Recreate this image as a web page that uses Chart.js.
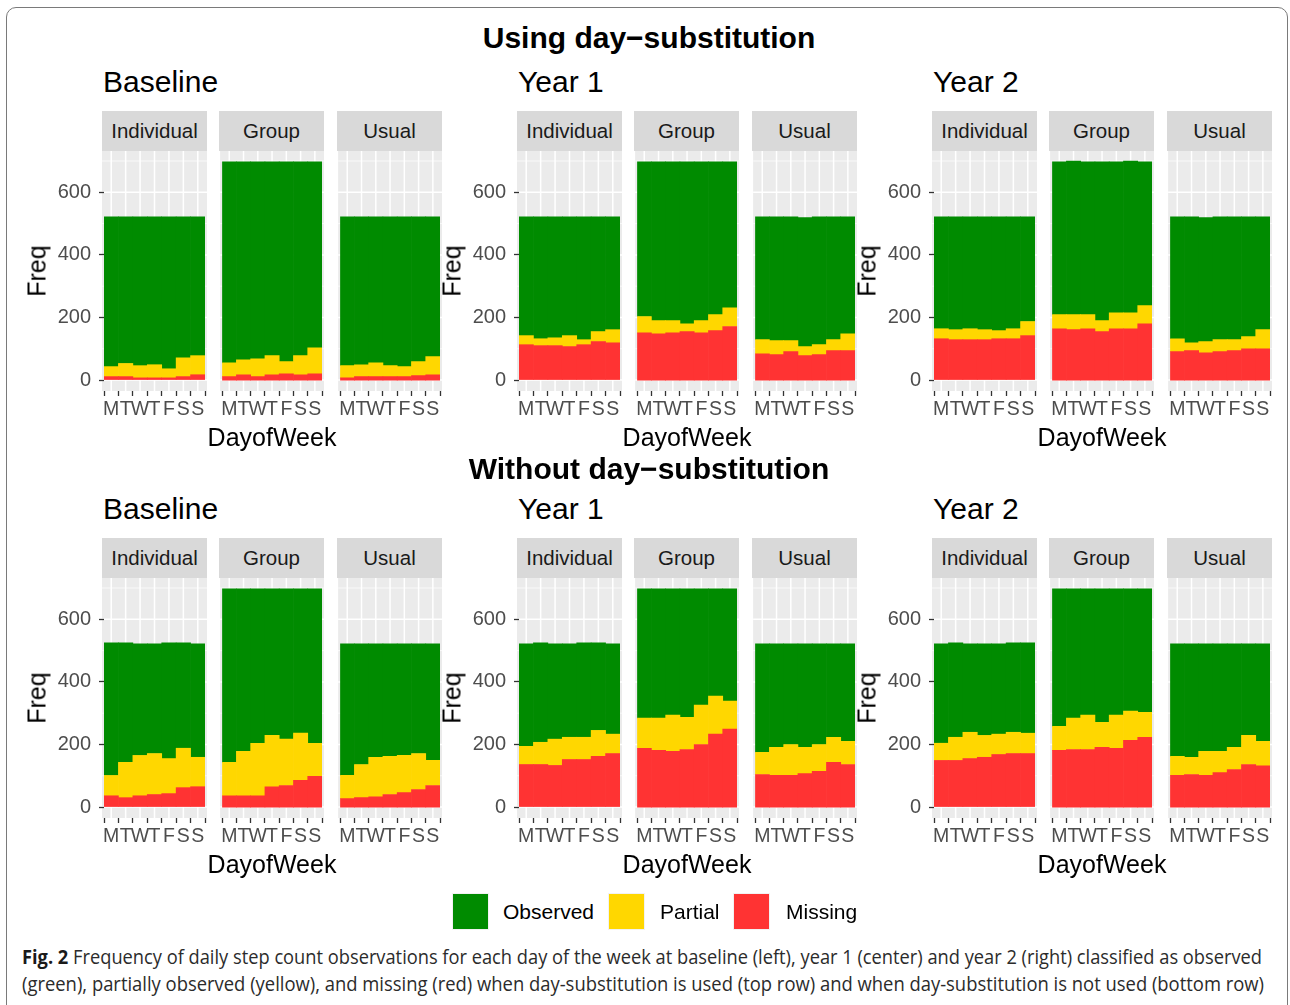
<!DOCTYPE html>
<html>
<head>
<meta charset="utf-8">
<script src="https://cdn.jsdelivr.net/npm/chart.js@4.4.1/dist/chart.umd.min.js"></script>
<style>
  html, body { margin: 0; padding: 0; background: #fff; }
  body { width: 1290px; height: 1005px; position: relative; overflow: hidden; font-family: "Liberation Sans", Arial, sans-serif; }
  .abs { position: absolute; white-space: nowrap; }
  .frame { position: absolute; left: 6px; top: 7px; width: 1282px; height: 1020px; border: 1.3px solid #7a7a7a; border-radius: 10px; box-sizing: border-box; }
  .title { font-weight: bold; font-size: 30px; color: #000; transform: translate(-50%, -50%); }
  .period { font-size: 30px; color: #000; transform: translateY(-50%); }
  .strip { background: #d9d9d9; color: #1a1a1a; font-size: 20.5px; text-align: center; }
  .axtitle { font-size: 25px; color: #000; transform: translate(-50%, -50%); }
  .freq { font-size: 25px; color: #000; transform: translate(-50%, -50%) rotate(-90deg); }
  canvas { position: absolute; }
  .key { position: absolute; width: 37px; height: 37px; box-sizing: border-box; border: 1.5px solid #f2f2f2; }
  .keytxt { font-size: 21px; color: #000; transform: translateY(-50%); }
  .cap { font-family: "Open Sans", "Noto Sans", sans-serif; font-size: 19.5px; color: #2b2b2b; transform-origin: 0 50%; }
</style>
</head>
<body>
<div class="frame"></div>
<div id="root"></div>
<script>
const days = ['M', 'T', 'W', 'T', 'F', 'S', 'S'];
const periods = ['Baseline', 'Year 1', 'Year 2'];
const arms = ['Individual', 'Group', 'Usual'];
const yTicks = [0, 200, 400, 600];

// Using day-substitution (top row)
const subBaseIndMissing = [11, 11, 7, 7, 7, 11, 17];
const subBaseIndPartial = [32, 42, 39, 42, 29, 60, 61];
const subBaseIndObserved = [479, 469, 476, 473, 486, 451, 444];
const subBaseGrpMissing = [11, 17, 11, 17, 20, 17, 20];
const subBaseGrpPartial = [44, 48, 57, 61, 39, 61, 83];
const subBaseGrpObserved = [642, 632, 629, 619, 638, 619, 594];
const subBaseUsuMissing = [7, 11, 11, 11, 11, 14, 17];
const subBaseUsuPartial = [39, 38, 44, 35, 32, 45, 58];
const subBaseUsuObserved = [476, 473, 467, 476, 479, 463, 447];

const subY1IndMissing = [113, 110, 110, 107, 113, 123, 119];
const subY1IndPartial = [29, 22, 25, 35, 16, 32, 42];
const subY1IndObserved = [380, 390, 387, 380, 393, 367, 361];
const subY1GrpMissing = [151, 148, 151, 155, 151, 158, 171];
const subY1GrpPartial = [52, 42, 39, 25, 39, 51, 60];
const subY1GrpObserved = [494, 507, 507, 517, 507, 488, 466];
const subY1UsuMissing = [84, 81, 91, 78, 81, 94, 94];
const subY1UsuPartial = [45, 45, 35, 29, 32, 35, 54];
const subY1UsuObserved = [393, 396, 396, 412, 409, 393, 374];

const subY2IndMissing = [132, 129, 129, 129, 132, 132, 142];
const subY2IndPartial = [32, 32, 35, 32, 26, 32, 45];
const subY2IndObserved = [358, 361, 358, 361, 364, 358, 335];
const subY2GrpMissing = [164, 161, 164, 155, 164, 164, 180];
const subY2GrpPartial = [45, 48, 45, 35, 51, 51, 58];
const subY2GrpObserved = [488, 491, 488, 507, 482, 485, 459];
const subY2UsuMissing = [91, 94, 87, 91, 94, 100, 100];
const subY2UsuPartial = [41, 25, 36, 38, 35, 39, 61];
const subY2UsuObserved = [390, 403, 396, 393, 393, 383, 361];

// Without day-substitution (bottom row)
const rawBaseIndMissing = [36, 30, 36, 40, 43, 62, 65];
const rawBaseIndPartial = [65, 113, 129, 131, 112, 126, 94];
const rawBaseIndObserved = [424, 382, 357, 351, 370, 337, 363];
const rawBaseGrpMissing = [36, 36, 36, 65, 69, 85, 98];
const rawBaseGrpPartial = [107, 142, 168, 164, 148, 151, 106];
const rawBaseGrpObserved = [554, 519, 493, 468, 480, 461, 493];
const rawBaseUsuMissing = [27, 30, 33, 40, 46, 56, 69];
const rawBaseUsuPartial = [74, 106, 126, 122, 119, 115, 80];
const rawBaseUsuObserved = [421, 386, 363, 360, 357, 351, 373];

const rawY1IndMissing = [136, 136, 133, 152, 152, 162, 171];
const rawY1IndPartial = [58, 71, 84, 71, 71, 83, 62];
const rawY1IndObserved = [328, 318, 305, 299, 302, 280, 289];
const rawY1GrpMissing = [188, 181, 178, 184, 200, 233, 249];
const rawY1GrpPartial = [96, 103, 116, 103, 126, 122, 90];
const rawY1GrpObserved = [413, 413, 403, 410, 371, 342, 358];
const rawY1UsuMissing = [104, 101, 101, 107, 114, 143, 136];
const rawY1UsuPartial = [71, 90, 99, 84, 86, 80, 74];
const rawY1UsuObserved = [347, 331, 322, 331, 322, 299, 312];

const rawY2IndMissing = [149, 149, 155, 159, 168, 171, 171];
const rawY2IndPartial = [55, 74, 84, 70, 65, 68, 65];
const rawY2IndObserved = [318, 302, 283, 293, 289, 286, 289];
const rawY2GrpMissing = [181, 184, 184, 191, 188, 213, 223];
const rawY2GrpPartial = [77, 100, 110, 80, 106, 94, 80];
const rawY2GrpObserved = [439, 413, 403, 426, 403, 390, 394];
const rawY2UsuMissing = [101, 104, 101, 110, 120, 136, 132];
const rawY2UsuPartial = [61, 55, 77, 68, 71, 93, 78];
const rawY2UsuObserved = [360, 363, 344, 344, 331, 293, 312];

const COLORS = { Observed: '#008B00', Partial: '#FFD700', Missing: '#FF3333' };

// panels[row][period][arm] = [missing, partial, observed]
const panels = [
  [
    [[subBaseIndMissing, subBaseIndPartial, subBaseIndObserved], [subBaseGrpMissing, subBaseGrpPartial, subBaseGrpObserved], [subBaseUsuMissing, subBaseUsuPartial, subBaseUsuObserved]],
    [[subY1IndMissing, subY1IndPartial, subY1IndObserved], [subY1GrpMissing, subY1GrpPartial, subY1GrpObserved], [subY1UsuMissing, subY1UsuPartial, subY1UsuObserved]],
    [[subY2IndMissing, subY2IndPartial, subY2IndObserved], [subY2GrpMissing, subY2GrpPartial, subY2GrpObserved], [subY2UsuMissing, subY2UsuPartial, subY2UsuObserved]]
  ],
  [
    [[rawBaseIndMissing, rawBaseIndPartial, rawBaseIndObserved], [rawBaseGrpMissing, rawBaseGrpPartial, rawBaseGrpObserved], [rawBaseUsuMissing, rawBaseUsuPartial, rawBaseUsuObserved]],
    [[rawY1IndMissing, rawY1IndPartial, rawY1IndObserved], [rawY1GrpMissing, rawY1GrpPartial, rawY1GrpObserved], [rawY1UsuMissing, rawY1UsuPartial, rawY1UsuObserved]],
    [[rawY2IndMissing, rawY2IndPartial, rawY2IndObserved], [rawY2GrpMissing, rawY2GrpPartial, rawY2GrpObserved], [rawY2UsuMissing, rawY2UsuPartial, rawY2UsuObserved]]
  ]
];

const rowTitles = ['Using day\u2212substitution', 'Without day\u2212substitution'];
const rowTitleY = [38, 469];
const rowPeriodY = [82, 509];
const rowStripTop = [111, 538];
const PANEL_H = 240, PANEL_W = 105, STRIP_H = 40;
const groupX = [102, 517, 932];
const facetDX = [0, 117, 235];
const Y_AXIS_W = 70, PAD_TOP = 26, X_AXIS_H = 40;

const root = document.getElementById('root');
function addDiv(cls, text, css) {
  const d = document.createElement('div');
  d.className = 'abs ' + cls;
  d.textContent = text;
  Object.assign(d.style, css);
  root.appendChild(d);
  return d;
}

// grey panel background + white grid, drawn before the axes and bars
const panelBg = {
  id: 'panelBg',
  beforeDraw(chart) {
    const { ctx, chartArea: a, scales } = chart;
    ctx.save();
    ctx.fillStyle = '#EBEBEB';
    ctx.fillRect(a.left - 2, a.top, a.right - a.left + 4, a.bottom - a.top);
    ctx.strokeStyle = '#FFFFFF';
    for (let v = 0; v <= 700; v += 100) {
      const y = scales.y.getPixelForValue(v);
      ctx.lineWidth = v % 200 === 0 ? 1.5 : 0.7;
      ctx.beginPath(); ctx.moveTo(a.left - 2, y); ctx.lineTo(a.right + 2, y); ctx.stroke();
    }
    ctx.lineWidth = 1.5;
    days.forEach((d, i) => {
      const x = scales.x.getPixelForValue(i);
      ctx.beginPath(); ctx.moveTo(x, a.top); ctx.lineTo(x, a.bottom); ctx.stroke();
    });
    ctx.restore();
  }
};

function makePanel(x, top, showY, series) {
  const yw = showY ? Y_AXIS_W : 0;
  const cv = document.createElement('canvas');
  const w = yw + PANEL_W, h = PAD_TOP + PANEL_H + X_AXIS_H;
  cv.width = w; cv.height = h;
  cv.style.left = (x - yw) + 'px';
  cv.style.top = (top - PAD_TOP) + 'px';
  cv.style.width = w + 'px'; cv.style.height = h + 'px';
  root.appendChild(cv);
  new Chart(cv, {
    type: 'bar',
    data: {
      labels: days,
      datasets: [
        { label: 'Missing', data: series[0], backgroundColor: COLORS.Missing },
        { label: 'Partial', data: series[1], backgroundColor: COLORS.Partial },
        { label: 'Observed', data: series[2], backgroundColor: COLORS.Observed }
      ]
    },
    options: {
      responsive: false,
      animation: false,
      layout: { padding: { top: PAD_TOP, left: 2, right: 2, bottom: 0 } },
      datasets: { bar: { categoryPercentage: 1, barPercentage: 1, borderWidth: 0 } },
      plugins: { legend: { display: false }, tooltip: { enabled: false } },
      scales: {
        x: {
          stacked: true,
          grid: { drawOnChartArea: false, drawTicks: true, tickLength: 5, tickColor: '#333333', tickWidth: 1.3 },
          border: { display: false },
          ticks: { color: '#4D4D4D', font: { family: 'Liberation Sans', size: 19.5 }, padding: 2, autoSkip: false, maxRotation: 0 },
          afterFit: s => { s.height = X_AXIS_H; }
        },
        y: {
          stacked: true,
          display: showY,
          min: -35,
          max: 732,
          afterBuildTicks: s => { s.ticks = yTicks.map(v => ({ value: v })); },
          grid: { drawOnChartArea: false, drawTicks: true, tickLength: 5, tickColor: '#333333', tickWidth: 1.3 },
          border: { display: false },
          ticks: { color: '#4D4D4D', font: { family: 'Liberation Sans', size: 20 }, padding: 8 },
          afterFit: s => { s.width = showY ? Y_AXIS_W : 0; }
        }
      }
    },
    plugins: [panelBg]
  });
}

rowTitles.forEach((t, r) => {
  addDiv('title', t, { left: '649px', top: rowTitleY[r] + 'px' });
  const stripTop = rowStripTop[r];
  const panelTop = stripTop + STRIP_H;
  periods.forEach((p, g) => {
    const gx = groupX[g];
    addDiv('period', p, { left: (gx + 1) + 'px', top: rowPeriodY[r] + 'px' });
    arms.forEach((arm, f) => {
      const px = gx + facetDX[f];
      addDiv('strip', arm, { left: px + 'px', top: stripTop + 'px', width: PANEL_W + 'px', height: STRIP_H + 'px', lineHeight: STRIP_H + 'px' });
      makePanel(px, panelTop, f === 0, panels[r][g][f]);
    });
    addDiv('freq', 'Freq', { left: (gx - 65) + 'px', top: (panelTop + PANEL_H / 2) + 'px' });
    addDiv('axtitle', 'DayofWeek', { left: (gx + 170) + 'px', top: (panelTop + PANEL_H + 46) + 'px' });
  });
});

// legend
const legendItems = [['Observed', 452, 503], ['Partial', 608, 660], ['Missing', 733, 786]];
legendItems.forEach(([name, bx, tx]) => {
  const k = document.createElement('div');
  k.className = 'key';
  Object.assign(k.style, { left: bx + 'px', top: '893px', background: COLORS[name] });
  root.appendChild(k);
  addDiv('keytxt', name, { left: tx + 'px', top: '912px' });
});

// caption
const capLines = [
  ['Fig. 2', ' Frequency of daily step count observations for each day of the week at baseline (left), year 1 (center) and year 2 (right) classified as observed'],
  ['', '(green), partially observed (yellow), and missing (red) when day-substitution is used (top row) and when day-substitution is not used (bottom row)']
];
const capY = [957, 984];
capLines.forEach(([b, rest], i) => {
  const d = addDiv('cap', '', { left: '22px', top: (capY[i] - 13) + 'px', lineHeight: '26px' });
  if (b) { const s = document.createElement('b'); s.textContent = b; s.style.color = '#1a1a1a'; d.appendChild(s); }
  d.appendChild(document.createTextNode(rest));
  const w = d.getBoundingClientRect().width;
  const target = i === 0 ? 1240 : 1242;
  d.style.transform = 'scaleX(' + (target / w) + ')';
});
</script>
</body>
</html>
